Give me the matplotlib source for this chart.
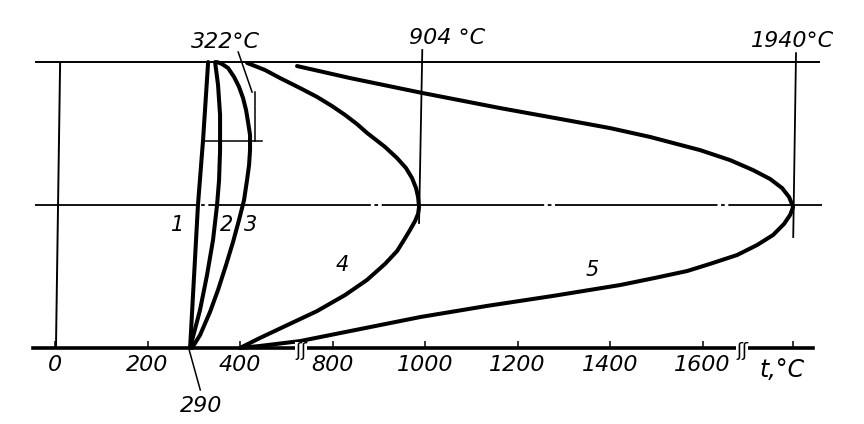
import matplotlib
matplotlib.use('Agg')
import matplotlib.pyplot as plt

# tick positions along the drawn t axis (one division = 200)
tick_pos = [0, 200, 400, 600, 800, 1000, 1200, 1400, 1595]
tick_lab = ['0', '200', '400', '800', '1000', '1200', '1400', '1600', '']

# curves: x = position on the t axis, y = relative height
c1_x = [292, 309, 320, 331]
c1_y = [0, 0.5, 0.727, 1]

c2_x = [292, 313.5, 328.6, 341.6, 350.3, 354.6, 356.8, 356.8, 352.4, 346]
c2_y = [0, 0.133, 0.255, 0.378, 0.5, 0.587, 0.692, 0.815, 0.920, 1]

c3_x = [296.2, 313.5, 335.1, 352.4, 369.7, 384.9, 397.8, 408.6, 415.1, 419.5,
        421.6, 421.6, 417.3, 413, 406.5, 397.8, 387, 374.1, 361.1, 350.3]
c3_y = [0, 0.045, 0.126, 0.203, 0.290, 0.371, 0.448, 0.517, 0.587, 0.640,
        0.692, 0.745, 0.790, 0.832, 0.874, 0.913, 0.948, 0.979, 0.993, 1]

c4_x = [415.1, 454.1, 486.5, 529.7, 566.5, 598.9, 627, 652.9, 674.6, 713.5,
        739.5, 758.9, 771.9, 780.5, 784.9, 787, 784.9, 778.4, 767.6, 754.6,
        739.5, 713.5, 674.6, 627, 566.5, 493, 443.2, 400]
c4_y = [0.997, 0.972, 0.944, 0.909, 0.878, 0.846, 0.815, 0.783, 0.752, 0.703,
        0.664, 0.629, 0.594, 0.559, 0.528, 0.493, 0.469, 0.444, 0.413, 0.378,
        0.339, 0.294, 0.238, 0.185, 0.129, 0.073, 0.035, 0]

c5_x = [523.2, 637.8, 793.5, 962.2, 1091.9, 1200, 1286.5, 1394.6, 1459.5,
        1509.2, 1546, 1572, 1587, 1595.7, 1589.2, 1576.2, 1552.4, 1517.8,
        1474.6, 1416.2, 1366.5, 1297.3, 1221.6, 1076.8, 934, 789.2, 637.8,
        529.7, 443.2, 400]
c5_y = [0.986, 0.944, 0.892, 0.839, 0.801, 0.769, 0.738, 0.692, 0.657,
        0.622, 0.591, 0.559, 0.528, 0.493, 0.465, 0.434, 0.395, 0.360,
        0.325, 0.294, 0.269, 0.245, 0.220, 0.182, 0.147, 0.108, 0.059,
        0.024, 0.007, 0]

curves_x = [c1_x, c2_x, c3_x, c4_x, c5_x]
curves_y = [c1_y, c2_y, c3_y, c4_y, c5_y]
curve_names = ['1', '2', '3', '4', '5']
name_x = [264, 370, 422, 620, 1161]
name_y = [0.43, 0.43, 0.43, 0.29, 0.273]

# temperatures marked at the top
top_lab = ['322°C', '904 °C', '1940°C']
top_x = [368, 848, 1594]
top_y = [1.07, 1.084, 1.073]

fig = plt.figure(figsize=(8.64, 4.24), dpi=100)
ax = fig.add_axes([0, 0, 1, 1])
ax.set_xlim(-119, 1749)
ax.set_ylim(-0.266, 1.217)

for s in ['left', 'right', 'top']:
    ax.spines[s].set_visible(False)
ax.spines['bottom'].set_position(('data', 0))
ax.spines['bottom'].set_bounds(-48, 1639)
ax.spines['bottom'].set_linewidth(2.6)
ax.set_yticks([])
ax.set_xticks(tick_pos)
ax.set_xticklabels(tick_lab, fontsize=16, style='italic')
ax.tick_params(axis='x', direction='in', length=5, width=1.1, pad=5)

# frame lines of the drawing
ax.plot([-41, 1652], [1, 1], color='black', lw=1.4)
ax.plot([-43, 1658], [0.5, 0.5], color='black', lw=1.3, dashes=(90, 2, 2, 2))
ax.plot([2, 11], [0, 1], color='black', lw=1.4)
ax.plot([787, 794], [0.437, 1.042], color='black', lw=1.3)
ax.plot([1596, 1602], [0.388, 1.031], color='black', lw=1.3)

# curves
for xs, ys in zip(curves_x, curves_y):
    ax.plot(xs, ys, color='black', lw=2.9, solid_capstyle='round',
            solid_joinstyle='round')
for n, x, y in zip(curve_names, name_x, name_y):
    ax.text(x, y, n, fontsize=15, style='italic', ha='center', va='center')

for t, x, y in zip(top_lab, top_x, top_y):
    ax.text(x, y, t, fontsize=16, style='italic', ha='center', va='center')

# leader of the 322 °C mark
ax.plot([396, 426], [1.035, 0.895], color='black', lw=1.1)
ax.plot([432, 432], [0.895, 0.724], color='black', lw=1.1)
ax.plot([320, 448], [0.724, 0.724], color='black', lw=1.1)

# 290 mark under the axis
ax.plot([290, 314], [-0.007, -0.147], color='black', lw=1.1)
ax.text(316, -0.203, '290', fontsize=16, style='italic',
        ha='center', va='center')

ax.text(1572, -0.077, 't,°C', fontsize=17, style='italic',
        ha='center', va='center')

# axis breaks
for bx in [532, 1485]:
    ax.text(bx, -0.01, 'ʃʃ', fontsize=13, ha='center', va='center',
            bbox=dict(facecolor='white', edgecolor='none', pad=0.1))

fig.savefig('out.png', dpi=100)
